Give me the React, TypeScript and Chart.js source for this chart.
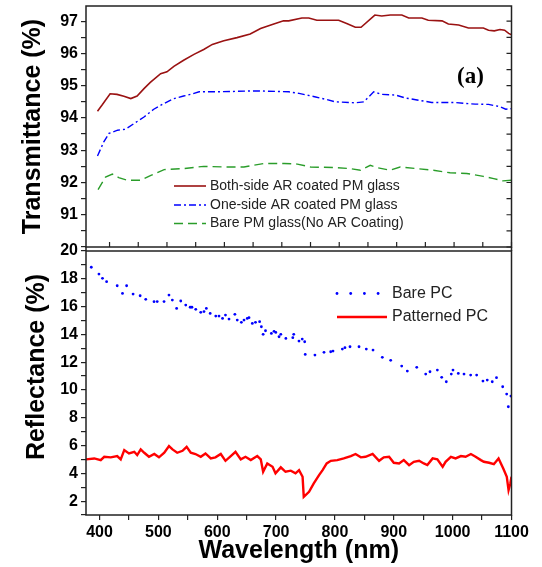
import React, { useEffect, useRef } from 'react';
import { Chart, registerables } from 'chart.js';

Chart.register(...registerables);

// ---------- data (wavelength nm, value %) ----------
const bothSide: [number, number][] = [
  [379, 94.21], [387, 94.4], [401, 94.75], [413, 94.73], [425, 94.67], [437, 94.6], [448, 94.68],
  [460, 94.91], [471, 95.1], [489, 95.37], [500, 95.43], [512, 95.6], [529, 95.79], [547, 95.97],
  [564, 96.12], [579, 96.28], [599, 96.39], [622, 96.49], [645, 96.6], [663, 96.77], [686, 96.91],
  [703, 97.01], [712, 97.01], [735, 97.1], [747, 97.1], [761, 97.03], [799, 97.03], [813, 96.93],
  [828, 96.81], [838, 96.81], [862, 97.19], [874, 97.16], [889, 97.19], [909, 97.19], [921, 97.1],
  [944, 97.1], [955, 97.03], [979, 97.01], [990, 96.91], [1008, 96.88], [1025, 96.79], [1051, 96.79],
  [1060, 96.72], [1070, 96.7], [1080, 96.74], [1088, 96.72], [1095, 96.62], [1100, 96.58],
];

const oneSide: [number, number][] = [
  [379, 92.82], [390, 93.26], [399, 93.52], [414, 93.62], [428, 93.65], [443, 93.83], [460, 94.03],
  [477, 94.27], [495, 94.45], [512, 94.6], [529, 94.68], [541, 94.73], [556, 94.81], [587, 94.81],
  [657, 94.84], [712, 94.81], [730, 94.76], [759, 94.65], [776, 94.58], [793, 94.5], [828, 94.47],
  [843, 94.5], [860, 94.81], [874, 94.73], [898, 94.71], [915, 94.62], [938, 94.55], [961, 94.48],
  [985, 94.48], [1002, 94.48], [1019, 94.45], [1037, 94.43], [1060, 94.42], [1080, 94.35],
  [1090, 94.27], [1100, 94.29],
];

const barePM: [number, number][] = [
  [380, 91.78], [393, 92.17], [405, 92.26], [416, 92.15], [431, 92.07], [454, 92.07], [472, 92.22],
  [495, 92.4], [529, 92.43], [564, 92.5], [599, 92.48], [634, 92.48], [669, 92.59], [704, 92.59],
  [727, 92.57], [750, 92.48], [796, 92.46], [819, 92.43], [837, 92.38], [854, 92.53], [866, 92.46],
  [889, 92.38], [906, 92.48], [935, 92.43], [964, 92.38], [993, 92.3], [1022, 92.28], [1051, 92.19],
  [1069, 92.12], [1085, 92.05], [1100, 92.07],
];

const barePC: [number, number][] = [
  [386, 18.83], [399, 18.34], [405, 18.03], [412, 17.79], [430, 17.5], [439, 16.95], [446, 17.5],
  [457, 16.9], [469, 16.78], [478.5, 16.52], [492.6, 16.35], [498, 16.36], [509.6, 16.36], [518, 16.83],
  [523.7, 16.47], [531, 15.87], [538, 16.4], [546.5, 16.11], [554, 15.95], [557, 15.95], [563.5, 15.8],
  [572, 15.59], [577.5, 15.64], [581.5, 15.87], [588, 15.51], [597.5, 15.32], [603, 15.32], [609, 15.15],
  [614, 15.39], [620, 15.1], [630, 15.44], [634, 15.03], [641, 14.87], [645.5, 15.03], [651, 15.15],
  [654, 15.2], [659.6, 14.79], [665, 14.87], [672, 14.91], [675, 14.55], [678, 14.0], [682, 14.26],
  [692, 14.07], [696.5, 14.22], [699.5, 14.14], [705, 13.83], [708, 14.0], [716.6, 13.71], [728.4, 13.76],
  [730, 14.0], [738.9, 13.52], [744.4, 13.66], [748.6, 13.47], [749.5, 12.56], [766, 12.51], [781.4, 12.71],
  [792.8, 12.75], [796.7, 12.8], [812.6, 12.94], [817, 13.04], [825.6, 13.11], [840.9, 13.11], [853.3, 12.94],
  [864.7, 12.87], [880.5, 12.35], [894.7, 12.13], [913.4, 11.72], [923, 11.36], [939, 11.63], [954.2, 11.14],
  [961.5, 11.31], [974, 11.43], [981.4, 10.91], [989.2, 10.59], [997.7, 11.14], [1000.6, 11.43],
  [1009.6, 11.19], [1019.3, 11.14], [1030.6, 11.07], [1040.8, 11.07], [1051.5, 10.64], [1058.8, 10.71],
  [1067.3, 10.59], [1074.5, 10.88], [1085, 10.23], [1091.8, 9.7], [1094.6, 8.79], [1099, 9.56],
];

const patternedPC: [number, number][] = [
  [377, 5.0], [391, 5.07], [402, 4.95], [408, 5.19], [419, 5.15], [430, 5.24], [436, 5.0], [442, 5.67],
  [450, 5.43], [459, 5.55], [464, 5.31], [470, 5.72], [476, 5.48], [484, 5.19], [493, 5.39], [501, 5.15],
  [510, 5.48], [518, 5.96], [524, 5.72], [532, 5.48], [541, 5.62], [548, 5.91], [555, 5.48], [563, 5.39],
  [572, 5.19], [580, 5.43], [589, 5.07], [597, 5.15], [606, 5.39], [614, 4.9], [623, 5.24], [631, 5.55],
  [640, 5.0], [648, 5.19], [657, 4.95], [668, 5.24], [674, 5.0], [678, 4.11], [685, 4.71], [694, 4.47],
  [699, 4.0], [708, 4.43], [716, 4.11], [725, 4.19], [733, 4.0], [739, 4.23], [745, 3.75], [747, 2.31],
  [756, 2.67], [764, 3.27], [773, 3.87], [779, 4.23], [786, 4.71], [793, 4.9], [804, 4.95], [815, 5.07],
  [827, 5.24], [835, 5.39], [844, 5.15], [852, 5.19], [864, 5.39], [875, 4.9], [883, 5.15], [892, 5.19],
  [900, 4.76], [909, 4.71], [917, 4.95], [926, 4.59], [934, 4.83], [943, 4.9], [951, 4.71], [957, 4.59],
  [966, 5.07], [974, 5.0], [983, 4.47], [988, 4.83], [997, 5.19], [1005, 5.07], [1014, 5.24], [1022, 5.19],
  [1031, 5.39], [1039, 5.19], [1048, 4.95], [1053, 4.83], [1062, 4.76], [1070, 4.66], [1078, 5.07],
  [1086, 4.35], [1092, 3.75], [1095, 2.79], [1098, 3.27], [1100, 3.75],
];

// ---------- ticks ----------
const xTicks = [400, 450, 500, 550, 600, 650, 700, 750, 800, 850, 900, 950, 1000, 1050, 1100];
const xTickLabels = [400, 500, 600, 700, 800, 900, 1000, 1100];
const topYTicks = [90, 90.5, 91, 91.5, 92, 92.5, 93, 93.5, 94, 94.5, 95, 95.5, 96, 96.5, 97];
const topYLabels = [91, 92, 93, 94, 95, 96, 97];
const botYTicks = [1, 2, 3, 4, 5, 6, 7, 8, 9, 10, 11, 12, 13, 14, 15, 16, 17, 18, 19, 20];
const botYLabels = [2, 4, 6, 8, 10, 12, 14, 16, 18, 20];

const FONT = "'Liberation Sans', Arial, sans-serif";

const toXY = (arr: [number, number][]) => arr.map(([x, y]) => ({ x, y }));

const framePlugin = {
  id: 'frame',
  afterDraw(chart: any, _a: any, opts: any) {
    const { ctx, chartArea: a } = chart;
    ctx.save();
    ctx.strokeStyle = '#222';
    ctx.lineWidth = 1.5;
    ctx.strokeRect(a.left, a.top, a.right - a.left, a.bottom - a.top);
    if (opts.extendDown) {
      ctx.beginPath();
      ctx.moveTo(a.left, a.bottom);
      ctx.lineTo(a.left, a.bottom + opts.extendDown);
      ctx.moveTo(a.right, a.bottom);
      ctx.lineTo(a.right, a.bottom + opts.extendDown);
      ctx.stroke();
    }
    ctx.lineWidth = 1.2;
    if (opts.innerBottom) {
      const xs = chart.scales.x;
      ctx.beginPath();
      xs.ticks.forEach((t: any) => {
        const px = xs.getPixelForValue(t.value);
        ctx.moveTo(px, a.bottom);
        ctx.lineTo(px, a.bottom - 5);
      });
      ctx.stroke();
    }
    if (opts.innerRight) {
      const ys = chart.scales.y;
      ctx.beginPath();
      ys.ticks.forEach((t: any) => {
        const py = ys.getPixelForValue(t.value);
        ctx.moveTo(a.right, py);
        ctx.lineTo(a.right - 5, py);
      });
      ctx.stroke();
    }
    if (opts.panelLabel) {
      const p = opts.panelLabel;
      ctx.fillStyle = '#000';
      ctx.font = p.font;
      ctx.textAlign = 'center';
      ctx.textBaseline = 'middle';
      ctx.fillText(p.text, p.x, p.y);
    }
    if (opts.yTitle) {
      const t = opts.yTitle;
      ctx.save();
      ctx.translate(t.x, t.y);
      ctx.rotate(-Math.PI / 2);
      ctx.fillStyle = '#000';
      ctx.font = t.font;
      ctx.textAlign = 'center';
      ctx.textBaseline = 'middle';
      ctx.fillText(t.text, 0, 0);
      ctx.restore();
    }
    ctx.restore();
  },
};

const legendPlugin = {
  id: 'inlegend',
  afterDraw(chart: any, _a: any, opts: any) {
    const { ctx } = chart;
    ctx.save();
    opts.items.forEach((it: any) => {
      const ds = chart.data.datasets[it.index];
      if (ds.showLine === false) {
        ctx.fillStyle = ds.pointBackgroundColor;
        for (let k = 0; k < 4; k++) {
          ctx.beginPath();
          ctx.arc(opts.x0 + k * opts.dotGap, it.y, ds.pointRadius, 0, Math.PI * 2);
          ctx.fill();
        }
      } else {
        ctx.strokeStyle = ds.borderColor;
        ctx.lineWidth = ds.borderWidth;
        ctx.setLineDash(ds.borderDash || []);
        ctx.beginPath();
        ctx.moveTo(opts.x0, it.y);
        ctx.lineTo(opts.x1, it.y);
        ctx.stroke();
        ctx.setLineDash([]);
      }
      ctx.fillStyle = opts.color;
      ctx.font = opts.font;
      ctx.textAlign = 'left';
      ctx.textBaseline = 'middle';
      ctx.fillText(ds.label, opts.textX, it.y);
    });
    ctx.restore();
  },
};

const setTicks = (vals: number[]) => (s: any) => {
  s.ticks = vals.map((v) => ({ value: v }));
};

export default function App() {
  const topRef = useRef<HTMLCanvasElement>(null);
  const botRef = useRef<HTMLCanvasElement>(null);

  useEffect(() => {
    document.body.style.margin = '0';
    const tickFont = { family: FONT, weight: 'bold' as const, size: 16 };
    const titleFont = { family: FONT, weight: 'bold' as const, size: 25 };

    const top = new Chart(topRef.current!, {
      type: 'line',
      data: {
        datasets: [
          { label: 'Both-side AR coated PM glass', data: toXY(bothSide), borderColor: '#9a1212', borderWidth: 1.6, pointRadius: 0, tension: 0 },
          { label: 'One-side AR coated PM glass', data: toXY(oneSide), borderColor: '#0000ff', borderWidth: 1.4, borderDash: [7, 3, 2, 3], pointRadius: 0, tension: 0 },
          { label: 'Bare PM glass(No AR Coating)', data: toXY(barePM), borderColor: '#2a9d2a', borderWidth: 1.4, borderDash: [9, 5], pointRadius: 0, tension: 0 },
        ],
      },
      options: {
        animation: false,
        responsive: false,
        devicePixelRatio: 1,
        layout: { padding: { top: 6, right: 30.5, bottom: 320, left: 0 } },
        plugins: {
          legend: { display: false },
          tooltip: { enabled: false },
          frame: { extendDown: 4, innerBottom: true, innerRight: true, panelLabel: { text: '(a)', x: 470.5, y: 77, font: "bold 23px 'Liberation Serif', 'Times New Roman', serif" } },
          inlegend: {
            x0: 174, x1: 206, textX: 210, color: '#222', font: `14px ${FONT}`,
            items: [{ index: 0, y: 186 }, { index: 1, y: 205 }, { index: 2, y: 223.5 }],
          },
        } as any,
        scales: {
          x: {
            type: 'linear', min: 359, max: 1100,
            afterBuildTicks: setTicks(xTicks),
            afterFit: (s: any) => { s.height = 0; s.paddingLeft = 0; s.paddingRight = 0; },
            ticks: { display: false },
            grid: { display: false },
            border: { display: false },
          },
          y: {
            type: 'linear', min: 90, max: 97.47,
            afterBuildTicks: setTicks(topYTicks),
            afterFit: (s: any) => { s.width = 86; s.paddingTop = 0; s.paddingBottom = 0; },
            ticks: {
              autoSkip: false, padding: 3, color: '#000', font: tickFont,
              callback: (v: any) => (topYLabels.includes(Number(v)) ? String(v) : ''),
            },
            grid: { drawOnChartArea: false, tickLength: 5, color: '#222', lineWidth: 1.2 },
            border: { display: false },
            title: { display: true, text: 'Transmittance (%)', color: '#000', font: titleFont, padding: { top: 18, bottom: 0 } },
          },
        },
      },
      plugins: [framePlugin, legendPlugin],
    });

    const bot = new Chart(botRef.current!, {
      type: 'line',
      data: {
        datasets: [
          { label: 'Bare PC', data: toXY(barePC), showLine: false, pointRadius: 1.4, pointBorderWidth: 0, pointBackgroundColor: '#0000ff', borderColor: '#0000ff' },
          { label: 'Patterned PC', data: toXY(patternedPC), borderColor: '#ff0000', borderWidth: 2.4, pointRadius: 0, tension: 0 },
        ],
      },
      options: {
        animation: false,
        responsive: false,
        devicePixelRatio: 1,
        layout: { padding: { top: 251, right: 30.5, bottom: 0, left: 0 } },
        plugins: {
          legend: { display: false },
          tooltip: { enabled: false },
          frame: { yTitle: { text: 'Reflectance (%)', x: 37, y: 367, font: `bold 25px ${FONT}` } },
          inlegend: {
            x0: 337, x1: 387, dotGap: 13.7, textX: 392, color: '#222', font: `16px ${FONT}`,
            items: [{ index: 0, y: 293.5 }, { index: 1, y: 317 }],
          },
        } as any,
        scales: {
          x: {
            type: 'linear', min: 377, max: 1100,
            afterBuildTicks: setTicks(xTicks),
            afterFit: (s: any) => { s.height = 52; s.paddingLeft = 0; s.paddingRight = 0; },
            ticks: {
              autoSkip: false, maxRotation: 0, padding: 3, color: '#000', font: tickFont,
              callback: (v: any) => (xTickLabels.includes(Number(v)) ? String(v) : ''),
            },
            grid: { drawOnChartArea: false, tickLength: 5, color: '#222', lineWidth: 1.2 },
            border: { display: false },
            title: { display: true, text: 'Wavelength (nm)', color: '#000', font: titleFont, padding: { top: 0, bottom: 1 } },
          },
          y: {
            type: 'linear', min: 1, max: 20,
            afterBuildTicks: setTicks(botYTicks),
            afterFit: (s: any) => { s.width = 86; s.paddingTop = 0; s.paddingBottom = 0; },
            ticks: {
              autoSkip: false, padding: 3, color: '#000', font: tickFont,
              callback: (v: any) => (botYLabels.includes(Number(v)) ? String(v) : ''),
            },
            grid: { drawOnChartArea: false, tickLength: 5, color: '#222', lineWidth: 1.2 },
            border: { display: false },
            title: { display: false, text: 'Reflectance (%)' },
          },
        },
      },
      plugins: [framePlugin, legendPlugin],
    });

    return () => {
      top.destroy();
      bot.destroy();
    };
  }, []);

  return (
    <div style={{ position: 'fixed', left: 0, top: 0, width: 542, height: 567, background: '#fff' }}>
      <canvas ref={topRef} width={542} height={567} style={{ position: 'absolute', left: 0, top: 0 }} />
      <canvas ref={botRef} width={542} height={567} style={{ position: 'absolute', left: 0, top: 0 }} />
    </div>
  );
}
